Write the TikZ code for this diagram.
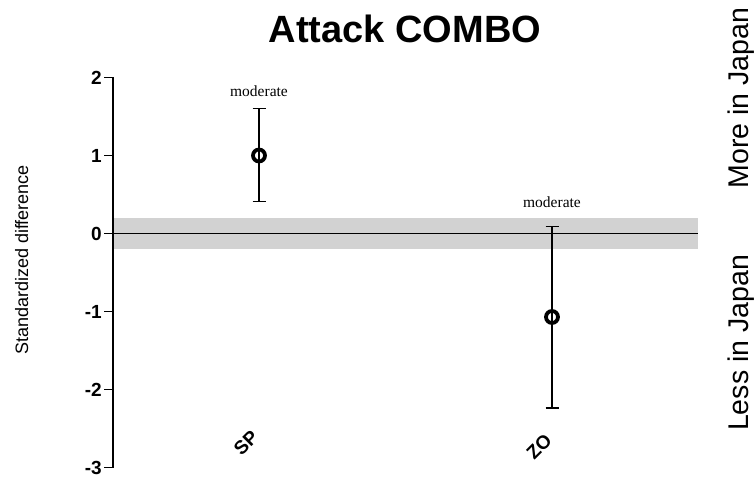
\documentclass[tikz,border=0pt]{standalone}
\usepackage{fontspec}
\setmainfont{Liberation Sans}
\newfontfamily\serifont{Liberation Serif}
\begin{document}
\begin{tikzpicture}[x=1pt,y=-1pt,
  axisline/.style={line width=1.8pt},
  errbar/.style={line width=1.6pt},
  marker/.style={circle, draw, line width=3.8pt, minimum size=12pt, inner sep=0pt},
  ticklab/.style={font=\bfseries\fontsize{19}{19}\selectfont, anchor=east, inner sep=0pt},
  catlab/.style={font=\bfseries\fontsize{19}{19}\selectfont, rotate=45, inner sep=0pt},
  effect/.style={font=\serifont\fontsize{15.5}{15.5}\selectfont, anchor=base, inner sep=0pt},
  sidelab/.style={font=\fontsize{28.5}{28.5}\selectfont, rotate=90, anchor=base, inner sep=0pt},
  ylab/.style={font=\fontsize{18}{18}\selectfont, rotate=90, anchor=base, inner sep=0pt}]
\useasboundingbox (0,0) rectangle (754,476);
% gray band and zero line
\fill[gray!35] (113,217.9) rectangle (698,249.1);
\coordinate (z0) at (113,233.5);
\coordinate (z1) at (698,233.5);
\draw[axisline] (z0) -- (z1);
% axis
\coordinate (atop) at (113,77.5);
\coordinate (abot) at (113,467.5);
\draw[axisline] (atop) -- (abot);
\foreach \v/\lab in {2/2,1/1,0/0,-1/-1,-2/-2,-3/-3}{
  \pgfmathsetmacro{\yy}{233.5-78*\v}
  \draw[axisline] (104,\yy) -- (113.9,\yy);
  \node[ticklab] (t\lab) at (102,\yy) {\lab};
}
% title
\node[font=\bfseries\fontsize{38}{38}\selectfont, anchor=base, inner sep=0pt] (title) at (405,43) {Attack COMBO};
% y label
\node[ylab] (ylabel) at (28,260) {Standardized difference};
% side labels
\node[sidelab] (more) at (748,98) {More in Japan};
\node[sidelab] (less) at (748,343) {Less in Japan};
% SP
\coordinate (sphi) at (259,108.7);
\coordinate (splo) at (259,201.5);
\draw[errbar] (sphi) -- (splo);
\draw[errbar] ([xshift=-6.5pt]sphi) -- ([xshift=6.5pt]sphi);
\draw[errbar] ([xshift=-6.5pt]splo) -- ([xshift=6.5pt]splo);
\node[marker] (spm) at (259,155.5) {};
\node[effect] (spmod) at (259,97) {moderate};
\node[catlab] (splab) at (246,443) {SP};
% ZO
\coordinate (zohi) at (552,226.5);
\coordinate (zolo) at (552,408.2);
\draw[errbar] (zohi) -- (zolo);
\draw[errbar] ([xshift=-6.5pt]zohi) -- ([xshift=6.5pt]zohi);
\draw[errbar] ([xshift=-6.5pt]zolo) -- ([xshift=6.5pt]zolo);
\node[marker] (zom) at (552,317) {};
\node[effect] (zomod) at (552,207) {moderate};
\node[catlab] (zolab) at (539,447) {ZO};
\end{tikzpicture}
\end{document}
